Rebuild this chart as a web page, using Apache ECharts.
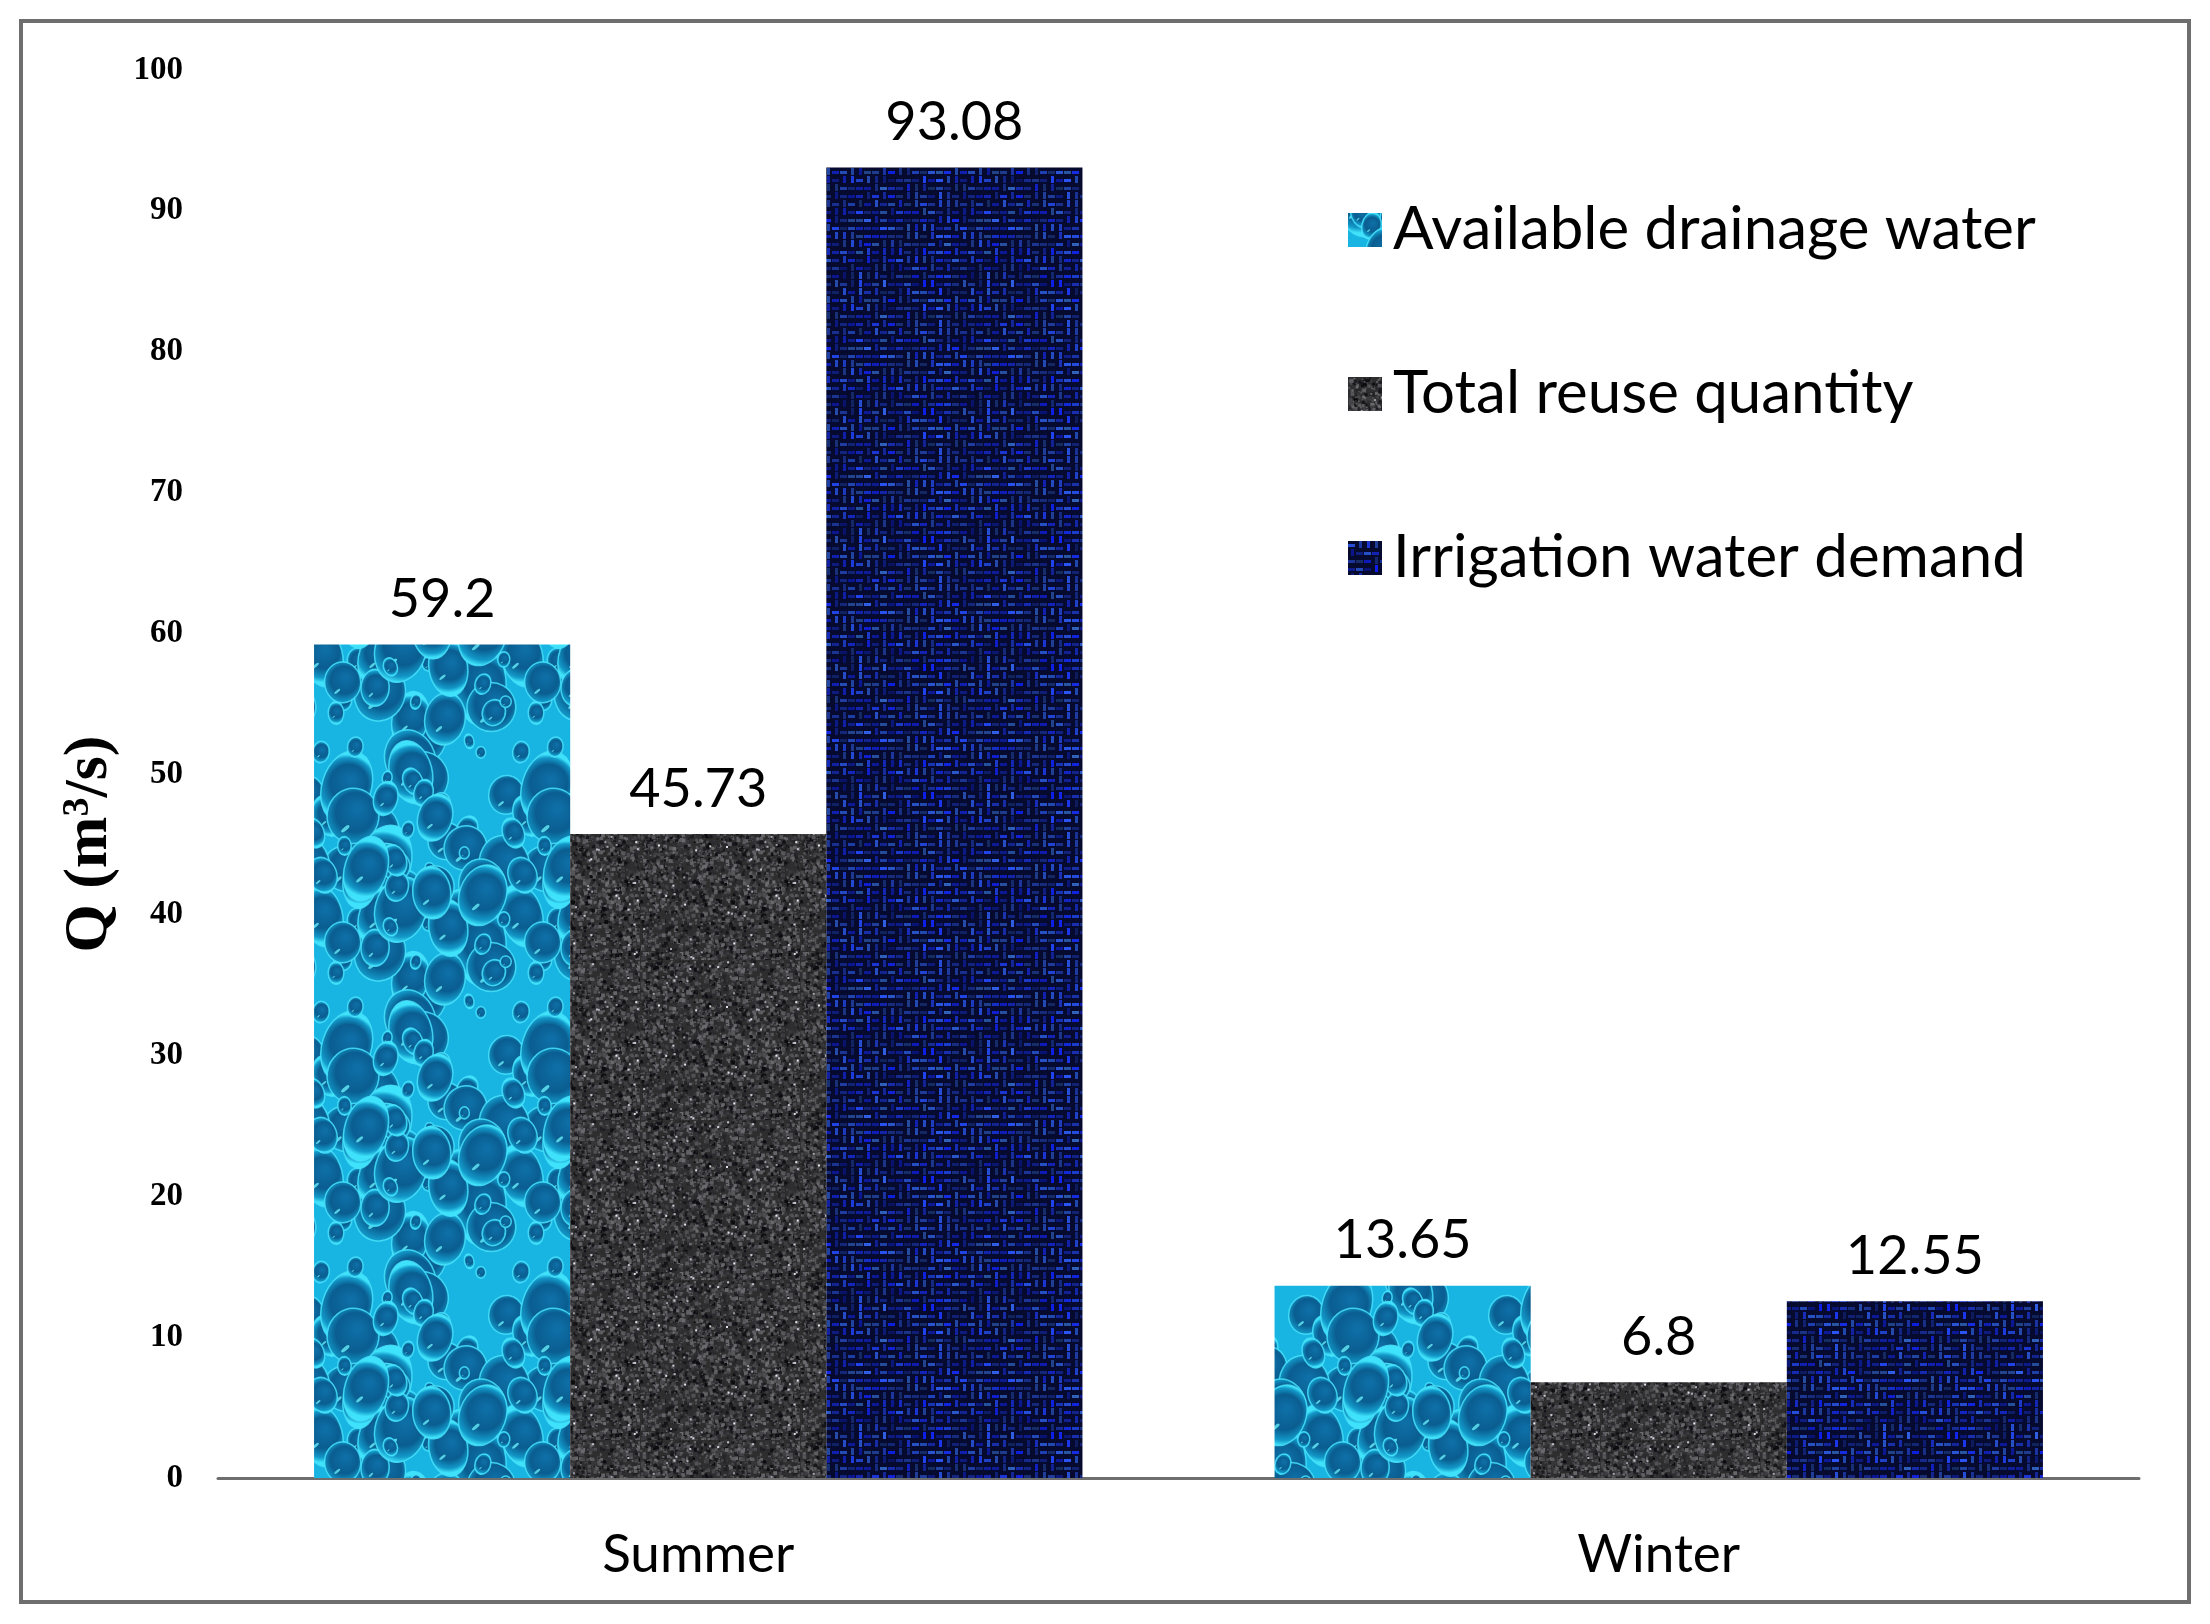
<!DOCTYPE html>
<html>
<head>
<meta charset="utf-8">
<script src="https://cdn.jsdelivr.net/npm/echarts@6/dist/echarts.min.js"></script>
<style>
  html, body { margin: 0; padding: 0; background: #fff; }
  #dashboard { width: 2210px; height: 1624px; }
</style>
</head>
<body>
<div id="dashboard"></div>
<script>
var seasons = ['Summer', 'Winter'];
var series_names = ['Available drainage water', 'Total reuse quantity', 'Irrigation water demand'];
var drainage = [59.2, 13.65];
var reuse = [45.73, 6.8];
var demand = [93.08, 12.55];
var y_ticks = [0, 10, 20, 30, 40, 50, 60, 70, 80, 90, 100];

// seeded noise, only used for bar textures
var seed = 12345;
function rnd ( ) {
	seed = (seed * 16807) % 2147483647;
	return (seed - 1) / 2147483646;
}
function make_canvas ( w, h, draw ) {
	var c = document.createElement('canvas');
	c.width = w;
	c.height = h;
	draw( c.getContext('2d'), w, h );
	return c;
}

// water drops texture
var water_tex = make_canvas( 200, 260, function ( ctx, w, h ) {
	ctx.fillStyle = '#18b4e2';
	ctx.fillRect( 0, 0, w, h );
	for( var i = 0; i < 75; i ++ ) {
		var x = rnd() * w;
		var y = rnd() * h;
		var r = 4 + rnd() * 24;
		var stretch = 1 + rnd() * 0.6;
		var rot = (rnd() - 0.5) * 0.8;
		for( var dx = -w; dx <= w; dx += w ) {
			for( var dy = -h; dy <= h; dy += h ) {
				var cx = x + dx, cy = y + dy;
				if( cx + r * 2 < 0 || cx - r * 2 > w || cy + r * 2 < 0 || cy - r * 2 > h ) continue;
				var g = ctx.createRadialGradient( cx + r * 0.2, cy - r * 0.3, r * 0.1, cx, cy, r * 1.3 );
				g.addColorStop( 0, '#0e6fa6' );
				g.addColorStop( 0.55, '#0a5d90' );
				g.addColorStop( 0.85, '#1298c8' );
				g.addColorStop( 1, '#3ee2fa' );
				ctx.fillStyle = g;
				ctx.beginPath();
				ctx.ellipse( cx, cy, r, r * stretch, rot, 0, Math.PI * 2 );
				ctx.fill();
				ctx.strokeStyle = 'rgba(70,225,250,0.85)';
				ctx.lineWidth = 1.5;
				ctx.stroke();
				ctx.fillStyle = 'rgba(110,245,255,0.75)';
				ctx.beginPath();
				ctx.ellipse( cx - r * 0.3, cy + r * 0.5, r * 0.2, r * 0.07, -0.7, 0, Math.PI * 2 );
				ctx.fill();
			}
		}
	}
});

// dark granite texture
var granite_tex = make_canvas( 160, 160, function ( ctx, w, h ) {
	ctx.fillStyle = '#2e2e2e';
	ctx.fillRect( 0, 0, w, h );
	for( var i = 0; i < 4000; i ++ ) {
		var v = Math.floor( 10 + rnd() * 100 );
		ctx.fillStyle = 'rgb(' + v + ',' + v + ',' + (v + 4) + ')';
		var s = 1 + rnd() * 3;
		ctx.fillRect( rnd() * w, rnd() * h, s, s );
	}
	for( var k = 0; k < 60; k ++ ) {
		var b = Math.floor( 150 + rnd() * 90 );
		ctx.fillStyle = 'rgb(' + b + ',' + b + ',' + (b + 10) + ')';
		ctx.fillRect( rnd() * w, rnd() * h, 2, 2 );
	}
});

// blue woven texture
var woven_tex = make_canvas( 128, 128, function ( ctx, w, h ) {
	ctx.fillStyle = '#050a2e';
	ctx.fillRect( 0, 0, w, h );
	for( var y = 0; y < h; y += 8 ) {
		for( var x = 0; x < w; x += 8 ) {
			var a = rnd();
			var bl = Math.floor( 170 + rnd() * 85 );
			var gr = Math.floor( 30 + rnd() * 70 );
			ctx.fillStyle = 'rgba(' + Math.floor(gr / 2) + ',' + gr + ',' + bl + ',' + (0.35 + a * 0.65) + ')';
			if( rnd() > 0.45 ) ctx.fillRect( x, y + 3, 7, 3 );
			else ctx.fillRect( x + 3, y, 3, 7 );
		}
	}
});

var myChart = echarts.init(document.getElementById('dashboard'));

var label_font = 'Lato, "Open Sans", sans-serif';
var serif_font = '"Liberation Serif", serif';
function bar_series ( name, data, tex ) {
	return {
		name: name,
		type: 'bar',
		barGap: '0%',
		barCategoryGap: '20%',
		data: data,
		itemStyle: {
			color: { image: tex, repeat: 'repeat' }
		},
		label: {
			show: true,
			position: 'top',
			distance: 18,
			color: '#000',
			fontFamily: label_font,
			fontSize: 54
		}
	};
}

option = {
	backgroundColor: '#fff',
	animation: false,
	grid: {
		left: 218,
		right: 71,
		top: 70,
		bottom: 146
	},
	graphic: [ {
		type: 'rect',
		shape: { x: 21, y: 21, width: 2168, height: 1581 },
		style: { fill: 'none', stroke: '#6e6e6e', lineWidth: 4 },
		silent: true
	}, {
		type: 'text',
		x: 90,
		y: 844,
		rotation: Math.PI / 2,
		silent: true,
		style: {
			text: '{a|Q (m}{b|3}{a|/s)}',
			align: 'center',
			verticalAlign: 'middle',
			rich: {
				a: { fontFamily: serif_font, fontWeight: 'bold', fontSize: 62, color: '#000' },
				b: { fontFamily: serif_font, fontWeight: 'bold', fontSize: 38, color: '#000', verticalAlign: 'top', padding: [0, 0, 24, 0] }
			}
		}
	} ],
	legend: {
		orient: 'vertical',
		left: 1343,
		top: 192,
		itemWidth: 34,
		itemHeight: 34,
		itemGap: 98,
		icon: 'rect',
		data: series_names,
		textStyle: {
			color: '#000',
			fontFamily: label_font,
			fontSize: 60,
			lineHeight: 66,
			padding: [0, 0, 0, 6]
		}
	},
	xAxis: {
		type: 'category',
		data: seasons,
		axisLine: { show: true, lineStyle: { color: '#6e6e6e', width: 3 } },
		axisTick: { show: false },
		axisLabel: {
			color: '#000',
			fontFamily: label_font,
			fontSize: 53,
			margin: 50
		}
	},
	yAxis: {
		type: 'value',
		min: 0,
		max: 100,
		interval: 10,
		splitLine: { show: false },
		axisLine: { show: false },
		axisTick: { show: false },
		axisLabel: {
			color: '#000',
			fontFamily: serif_font,
			fontWeight: 'bold',
			fontSize: 33,
			margin: 35,
			formatter: function ( v ) { return y_ticks.indexOf(v) >= 0 ? String(v) : ''; }
		}
	},
	series: [
		bar_series( series_names[0], drainage, water_tex ),
		bar_series( series_names[1], reuse, granite_tex ),
		bar_series( series_names[2], demand, woven_tex )
	]
};
myChart.setOption(option);
</script>
</body>
</html>
